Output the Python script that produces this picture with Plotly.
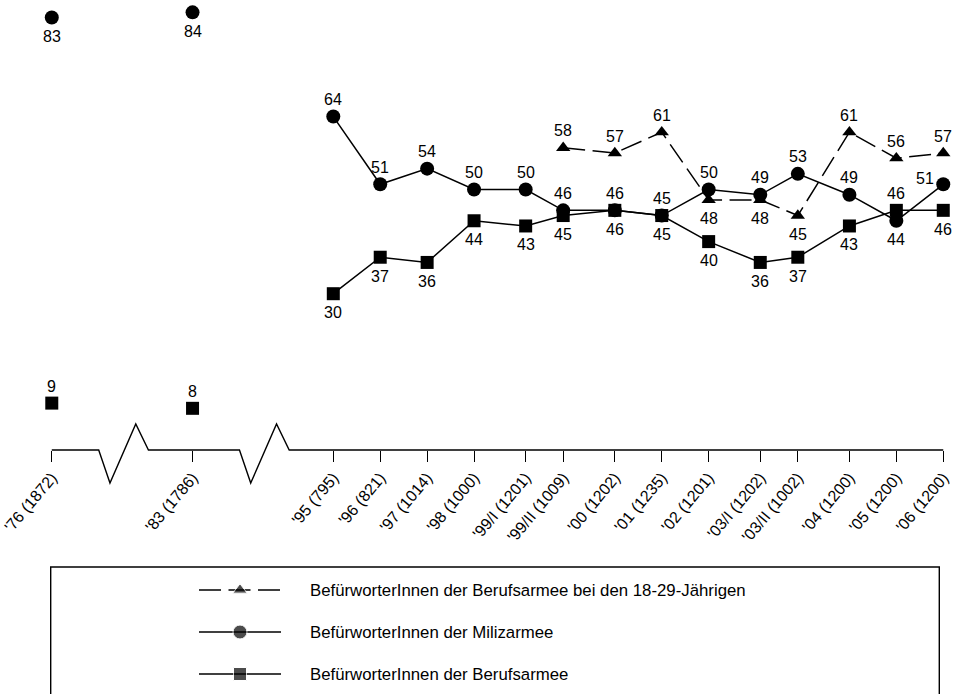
import plotly.graph_objects as go

# ---------------- data ----------------
categories = ["'76 (1872)", "'83 (1786)", "'95 (795)", "'96 (821)", "'97 (1014)",
              "'98 (1000)", "'99/I (1201)", "'99/II (1009)", "'00 (1202)",
              "'01 (1235)", "'02 (1201)", "'03/I (1202)", "'03/II (1002)",
              "'04 (1200)", "'05 (1200)", "'06 (1200)"]
survey_x = [-6, -3, 0, 1, 2, 3, 4.1, 4.9, 6, 7, 8, 9.1, 9.9, 11, 12, 13]

miliz = [83, 84, 64, 51, 54, 50, 50, 46, 46, 45, 50, 49, 53, 49, 44, 51]
beruf = [9, 8, 30, 37, 36, 44, 43, 45, 46, 45, 40, 36, 37, 43, 46, 46]
jung = [None] * 7 + [58, 57, 61, 48, 48, 45, 61, 56, 57]

name_jung = "BefürworterInnen der Berufsarmee bei den 18-29-Jährigen"
name_miliz = "BefürworterInnen der Milizarmee"
name_beruf = "BefürworterInnen der Berufsarmee"

# where each value label sits relative to its marker
miliz_lab = ["below", "below"] + ["above"] * 12 + ["below", "left"]
beruf_lab = ["above", "above"] + ["below"] * 12 + ["above", "below"]
jung_lab = [None] * 7 + ["above", "above", "above", "below", "below", "below",
                         "above", "above", "above"]

line_breaks_after = [0, 1]       # no connecting line between '76, '83 and '95
axis_breaks = [-4.5, -1.5]       # zig-zag axis breaks

# ---------------- layout geometry ----------------
W, H = 956, 694
FONT = "Liberation Sans, Arial, sans-serif"
PX_X, X0 = 46.92, 333.3          # px per x unit, px of x = 0
PX_Y, Y0 = 5.21, 450.0           # px per y unit, px of y = 0
PL, PR, PT, PB = 33, 953, 2, 497  # main plotting area in px

xr = [(PL - X0) / PX_X, (PR - X0) / PX_X]
yr = [-(PB - Y0) / PX_Y, (Y0 - PT) / PX_Y]


def broken(xs, ys):
    X, Y = [], []
    for i, (a, b) in enumerate(zip(xs, ys)):
        X.append(a)
        Y.append(b)
        if i in line_breaks_after:
            X.append(a)
            Y.append(None)
    return X, Y


fig = go.Figure()

DASH = "22px,7.5px"
series = [
    (name_jung, jung, jung_lab, "triangle-up", 12.5, DASH),
    (name_miliz, miliz, miliz_lab, "circle", 14, "solid"),
    (name_beruf, beruf, beruf_lab, "square", 13, "solid"),
]

annotations = []
for name, vals, labs, sym, msize, dash in series:
    X, Y = broken(survey_x, vals)
    fig.add_trace(go.Scatter(
        x=X, y=Y, name=name, mode="lines+markers", showlegend=False,
        connectgaps=False, cliponaxis=False,
        line=dict(color="black", width=1.5, dash=dash),
        marker=dict(symbol=sym, size=msize, color="black"),
    ))
    for xv, v, lab in zip(survey_x, vals, labs):
        if v is None:
            continue
        xs, ys = 0, 0
        if lab == "above":
            ys = 17
        elif lab == "below":
            ys = -19
        elif lab == "left":
            xs, ys = -18, 6
        annotations.append(dict(
            x=xv, y=v, xref="x", yref="y", text=str(v), showarrow=False,
            xshift=xs, yshift=ys, font=dict(family=FONT, size=16, color="black"),
        ))

# ---------------- custom legend ----------------
LEG_ROW0, LEG_DY = 590, 42
LEG_TOP, LEG_BOT = 565, 694
for row, (name, vals, labs, sym, msize, dash) in enumerate(series):
    fig.add_trace(go.Scatter(
        x=[0, 1, 2], y=[row, row, row], xaxis="x2", yaxis="y2",
        mode="lines+markers", showlegend=False, hoverinfo="skip", cliponaxis=False,
        line=dict(color="black", width=1.5, dash=dash),
        marker=dict(symbol=sym, size=[0, msize, 0], color="black"),
    ))
    annotations.append(dict(
        x=308 / W, xref="paper", y=row, yref="y2", text=name, showarrow=False,
        xanchor="left", yanchor="middle",
        font=dict(family=FONT, size=16.8, color="black"),
    ))

# ---------------- axis line with breaks ----------------
path = f"M {survey_x[0]},0"
for c in axis_breaks:
    for dx, dy in [(-0.5, 0), (-0.26, -6.33), (0.29, 5.0), (0.56, 0)]:
        path += f" L {c + dx},{dy}"
path += f" L {survey_x[-1]},0"

shapes = [
    dict(type="path", path=path, xref="x", yref="y",
         line=dict(color="black", width=1.4)),
    dict(type="rect", xref="paper", yref="paper",
         x0=50.7 / W, x1=939.3 / W, y0=-0.05, y1=(H - 567) / H,
         line=dict(color="black", width=1.4)),
]

fig.update_layout(
    width=W, height=H,
    margin=dict(l=0, r=0, t=0, b=0, pad=0, autoexpand=False),
    paper_bgcolor="white", plot_bgcolor="white",
    font=dict(family=FONT, color="black"),
    xaxis=dict(
        domain=[PL / W, PR / W], range=xr, anchor="free", automargin=False,
        position=(H - Y0) / H,
        tickmode="array", tickvals=survey_x, ticktext=categories,
        ticks="outside", ticklen=11, tickwidth=1.4, tickcolor="black",
        tickangle=-50, tickfont=dict(family=FONT, size=16, color="black"),
        showline=False, showgrid=False, zeroline=False, fixedrange=True,
    ),
    yaxis=dict(
        domain=[(H - PB) / H, (H - PT) / H], range=yr, automargin=False,
        visible=False, showgrid=False, zeroline=False, fixedrange=True,
    ),
    xaxis2=dict(domain=[199 / W, 281 / W], range=[0, 2], anchor="y2",
                automargin=False, visible=False, fixedrange=True),
    yaxis2=dict(domain=[0, (H - LEG_TOP) / H], automargin=False,
                range=[(LEG_BOT - LEG_ROW0) / LEG_DY, (LEG_TOP - LEG_ROW0) / LEG_DY],
                anchor="x2", visible=False, fixedrange=True),
    annotations=annotations,
    shapes=shapes,
    showlegend=False,
)

fig.write_html(
    "out.html",
    config={"displayModeBar": False},
    post_script="document.body.style.margin='0px';document.body.style.overflow='hidden';",
)
